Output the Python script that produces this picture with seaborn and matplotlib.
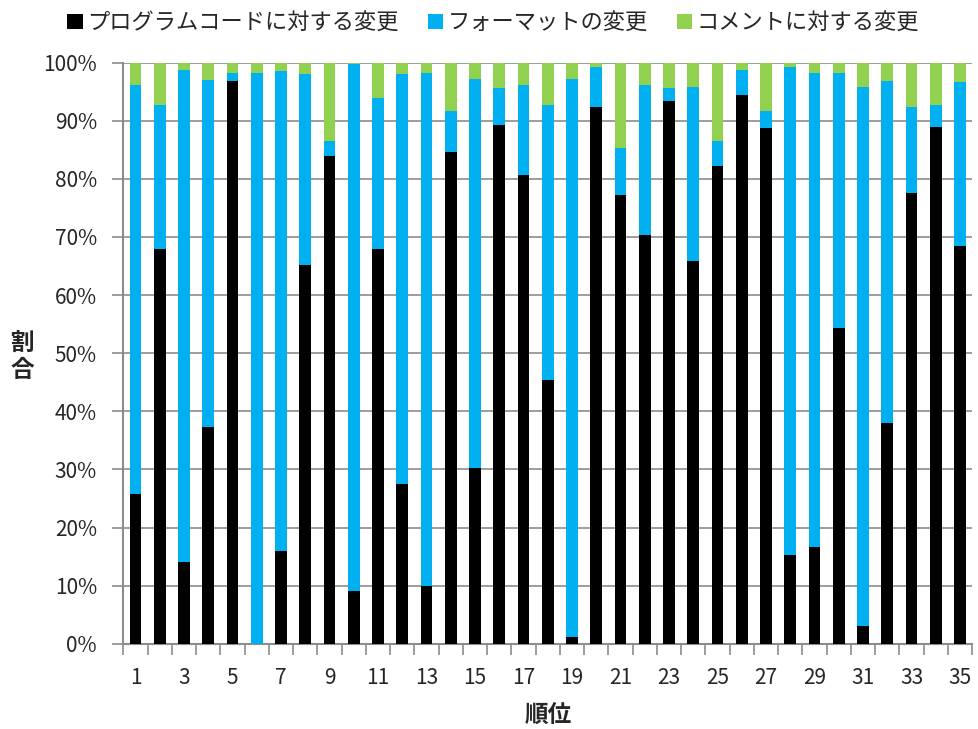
import matplotlib
matplotlib.use("Agg")
import matplotlib.pyplot as plt
import seaborn as sns
import pandas as pd
import numpy as np
from matplotlib.patches import Patch
from matplotlib.ticker import FixedLocator

sns.set_theme(style="white")
plt.rcParams['font.family'] = ['Noto Sans CJK JP', 'DejaVu Sans']

ranks = [str(i) for i in range(1, 36)]
code = [25.8, 68.0, 14.0, 37.3, 96.8, 0.0, 16.0, 65.2, 84.0, 9.0,
        68.0, 27.5, 9.9, 84.7, 30.3, 89.2, 80.6, 45.4, 1.1, 92.3,
        77.2, 70.4, 93.4, 65.9, 82.3, 94.4, 88.7, 15.2, 16.6, 54.4,
        3.0, 38.0, 77.5, 88.9, 68.5]
fmt = [70.3, 24.8, 84.7, 59.7, 1.5, 98.3, 82.5, 32.8, 2.5, 90.7,
       26.0, 70.5, 88.3, 6.9, 66.9, 6.4, 15.5, 47.4, 96.1, 6.9,
       8.1, 25.7, 2.2, 29.9, 4.2, 4.4, 2.9, 84.0, 81.6, 43.9,
       92.9, 58.9, 14.9, 3.9, 28.1]
comment = [3.9, 7.2, 1.3, 3.0, 1.7, 1.7, 1.5, 2.0, 13.5, 0.3,
           6.0, 2.0, 1.8, 8.4, 2.8, 4.4, 3.9, 7.2, 2.8, 0.8,
           14.7, 3.9, 4.4, 4.2, 13.5, 1.2, 8.4, 0.8, 1.8, 1.7,
           4.1, 3.1, 7.6, 7.2, 3.4]

series_names = ["プログラムコードに対する変更", "フォーマットの変更", "コメントに対する変更"]
colors = ["#000000", "#00B0F0", "#92D050"]

df = pd.DataFrame({"rank": ranks, "code": code, "fmt": fmt, "comment": comment})
df["lvl1"] = df["code"]
df["lvl2"] = df["code"] + df["fmt"]
df["lvl3"] = df["code"] + df["fmt"] + df["comment"]

fig = plt.figure(figsize=(9.79, 7.29), dpi=100)
ax = fig.add_axes([0.126, 0.117, 0.867, 0.797])

bw = 0.48
for col, c in zip(["lvl3", "lvl2", "lvl1"], [colors[2], colors[1], colors[0]]):
    sns.barplot(data=df, x="rank", y=col, color=c, width=bw, ax=ax,
                saturation=1, edgecolor="none", linewidth=0, zorder=3)

ax.set_ylim(0, 100)
ax.set_xlim(-0.5, 34.5)
ax.set_yticks(np.arange(0, 101, 10))
ax.set_yticklabels([f"{v}%" for v in range(0, 101, 10)], fontsize=15)
ax.yaxis.grid(True, color="#8c8c8c", linewidth=1.2, zorder=0)
ax.xaxis.grid(False)

ax.set_xticks(range(0, 35))
ax.set_xticklabels([r if (i % 2 == 0) else "" for i, r in enumerate(ranks)], fontsize=15)
ax.xaxis.set_minor_locator(FixedLocator(np.arange(-0.5, 35, 1)))
ax.tick_params(axis="x", which="major", length=0, pad=17)
ax.tick_params(axis="x", which="minor", length=8, width=1.2, color="#8c8c8c", direction="out", bottom=True)
ax.tick_params(axis="y", which="major", length=8, width=1.2, color="#8c8c8c", direction="out", left=True, pad=11)

for s in ["top", "right"]:
    ax.spines[s].set_visible(False)
for s in ["left", "bottom"]:
    ax.spines[s].set_color("#8c8c8c")
    ax.spines[s].set_linewidth(1.5)

ax.set_xlabel("順位", fontsize=17, fontweight="bold")
ax.xaxis.set_label_coords(0.5, -0.122)
ax.xaxis.label.set_va("center")
ax.set_ylabel("割\n合", fontsize=17, fontweight="bold", rotation=0, va="center", ha="center", linespacing=1.1)
ax.yaxis.set_label_coords(-0.119, 0.494)

handles = [Patch(facecolor=c, edgecolor="none") for c in colors]
fig.legend(handles, series_names, loc="upper left", bbox_to_anchor=(0.055, 1.003), ncol=3,
           frameon=False, fontsize=16, handlelength=0.7, handleheight=0.7,
           handletextpad=0.2, columnspacing=1.3, borderaxespad=0.2)

fig.savefig("out.png", dpi=100)
